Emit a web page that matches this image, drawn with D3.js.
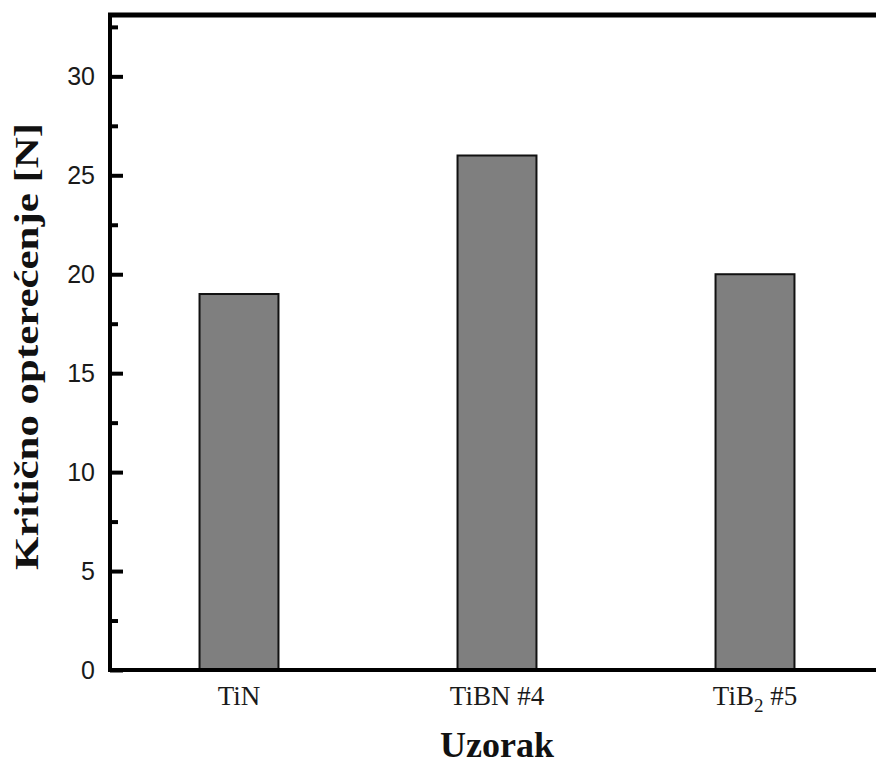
<!DOCTYPE html>
<html>
<head>
<meta charset="utf-8">
<script src="https://cdn.jsdelivr.net/npm/d3@7"></script>
<style>
  body { margin: 0; background: #fff; }
  svg { display: block; }
</style>
</head>
<body>
<script>
// data
const categories = ["TiN", "TiBN #4", "TiB2 #5"];
const loads = [19, 26, 20];
const yTicks = [0, 5, 10, 15, 20, 25, 30];
const yMinorTicks = [2.5, 7.5, 12.5, 17.5, 22.5, 27.5, 32.5];
const yMax = 33.1;

const width = 876, height = 767;
const plotLeft = 110, plotRight = 884, plotTop = 15, plotBottom = 670;

const svg = d3.select("body")
  .append("svg")
  .attr("width", width)
  .attr("height", height);

const x = d3.scaleBand()
  .domain(categories)
  .range([plotLeft, plotRight])
  .paddingInner(0.694)
  .paddingOuter(0.347);

const y = d3.scaleLinear()
  .domain([0, yMax])
  .range([plotBottom, plotTop]);

// bars
svg.selectAll("rect.bar")
  .data(loads)
  .enter()
  .append("rect")
  .attr("class", "bar")
  .attr("x", (d, i) => x(categories[i]))
  .attr("y", d => y(d))
  .attr("width", x.bandwidth())
  .attr("height", d => y(0) - y(d))
  .style("fill", "#7f7f7f")
  .style("stroke", "#111")
  .style("stroke-width", 2);

// minor ticks (inward)
svg.append("g")
  .attr("transform", `translate(${plotLeft},0)`)
  .call(d3.axisLeft(y).tickValues(yMinorTicks).tickSize(-8).tickFormat(""))
  .call(g => g.select(".domain").remove())
  .call(g => g.selectAll("line").attr("stroke", "#000").attr("stroke-width", 4));

// major ticks + labels
svg.append("g")
  .attr("transform", `translate(${plotLeft},0)`)
  .call(d3.axisLeft(y).tickValues(yTicks).tickSize(-13).tickPadding(15))
  .call(g => g.select(".domain").remove())
  .call(g => g.selectAll("line").attr("stroke", "#000").attr("stroke-width", 4))
  .call(g => g.selectAll("text")
    .attr("fill", "#1a1a1a")
    .style("font-family", "'Liberation Sans', Arial, sans-serif")
    .style("font-size", "25px"));

// frame: left, bottom, top, right
svg.append("line")
  .attr("x1", plotLeft).attr("x2", plotLeft)
  .attr("y1", plotTop).attr("y2", plotBottom + 2)
  .attr("stroke", "#000").attr("stroke-width", 4);
svg.append("line")
  .attr("x1", plotLeft - 2).attr("x2", plotRight)
  .attr("y1", plotBottom).attr("y2", plotBottom)
  .attr("stroke", "#000").attr("stroke-width", 4);
svg.append("line")
  .attr("x1", plotLeft - 2).attr("x2", plotRight)
  .attr("y1", plotTop).attr("y2", plotTop)
  .attr("stroke", "#000").attr("stroke-width", 5);
svg.append("line")
  .attr("x1", plotRight).attr("x2", plotRight)
  .attr("y1", plotTop).attr("y2", plotBottom)
  .attr("stroke", "#000").attr("stroke-width", 4);

// category labels
const xl = svg.selectAll("text.xlab")
  .data(categories)
  .enter()
  .append("text")
  .attr("class", "xlab")
  .attr("x", d => x(d) + x.bandwidth() / 2)
  .attr("y", plotBottom + 35)
  .attr("text-anchor", "middle")
  .style("font-family", "'Liberation Serif', 'Times New Roman', serif")
  .style("font-size", "27px")
  .attr("fill", "#1a1a1a");

xl.each(function(d) {
  const t = d3.select(this);
  const m = d.match(/^(.*?)(\d)( .*)$/);
  if (d.startsWith("TiB2") && m) {
    t.append("tspan").text(m[1]);
    t.append("tspan").text(m[2]).attr("dy", 7).style("font-size", "19px");
    t.append("tspan").text(m[3]).attr("dy", -7);
  } else {
    t.text(d);
  }
});

// axis titles
svg.append("text")
  .attr("x", (x(categories[1]) + x.bandwidth() / 2))
  .attr("y", 757)
  .attr("text-anchor", "middle")
  .style("font-family", "'Liberation Serif', 'Times New Roman', serif")
  .style("font-weight", "bold")
  .style("font-size", "36px")
  .attr("fill", "#111")
  .text("Uzorak");

svg.append("text")
  .attr("transform", `translate(38,${(123 + 570) / 2}) rotate(-90)`)
  .attr("text-anchor", "middle")
  .attr("textLength", 447)
  .attr("lengthAdjust", "spacingAndGlyphs")
  .style("font-family", "'Liberation Serif', 'Times New Roman', serif")
  .style("font-weight", "bold")
  .style("font-size", "33px")
  .attr("fill", "#111")
  .text("Kritično opterećenje [N]");
</script>
</body>
</html>
